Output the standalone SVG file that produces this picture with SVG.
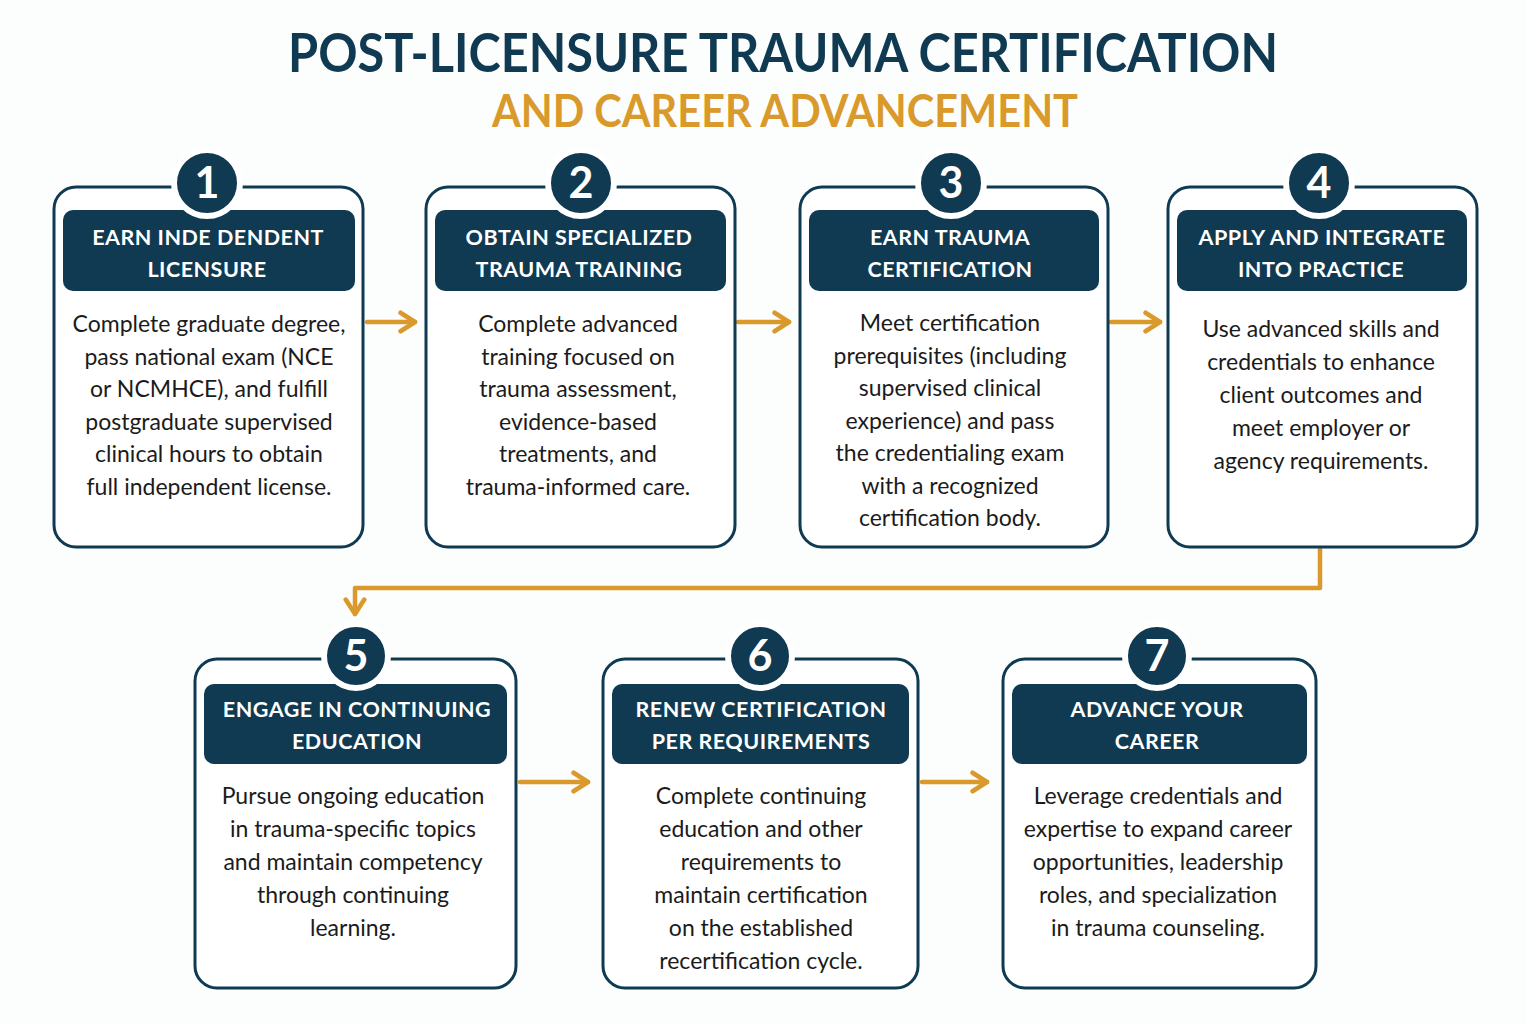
<svg xmlns="http://www.w3.org/2000/svg" width="1527" height="1024" viewBox="0 0 1527 1024">
<defs>
<style>
.card{fill:#ffffff;stroke:#0f3a52;stroke-width:3}
.hdr{fill:#0f3a52}
.num{fill:#0f3a52;stroke:#ffffff;stroke-width:6}
.numt{font-family:"Lato","Liberation Sans",sans-serif;font-weight:700;font-size:43px;fill:#ffffff;text-anchor:middle}
.ht{font-family:"Lato","Liberation Sans",sans-serif;font-weight:700;font-size:21.5px;fill:#ffffff;text-anchor:middle;letter-spacing:0.5px}
.bt{font-family:"Lato","Liberation Sans",sans-serif;font-size:23px;fill:#1b1b1b;text-anchor:middle}
.conn{fill:none;stroke:#d99a2b;stroke-width:4.5;stroke-linecap:round;stroke-linejoin:round}
</style>
<marker id="ah" viewBox="0 0 12 12" refX="9" refY="6" markerWidth="5.5" markerHeight="5.5" markerUnits="strokeWidth" orient="auto">
<path d="M2,1.5 L9,6 L2,10.5" fill="none" stroke="#d99a2b" stroke-width="2.2" stroke-linecap="round" stroke-linejoin="round"/>
</marker>
</defs>
<rect width="1527" height="1024" fill="#fcfdfd"/>
<g id="title">
<text x="783" y="72" font-family="Lato,'Liberation Sans',sans-serif" font-weight="700" font-size="54" fill="#0f3a52" text-anchor="middle" textLength="990" lengthAdjust="spacingAndGlyphs">POST-LICENSURE TRAUMA CERTIFICATION</text>
<text x="785" y="127" font-family="Lato,'Liberation Sans',sans-serif" font-weight="700" font-size="45" fill="#d99a2b" text-anchor="middle" textLength="586" lengthAdjust="spacingAndGlyphs">AND CAREER ADVANCEMENT</text>
</g>
<g id="connectors">
<path class="conn" d="M367,322 H415" marker-end="url(#ah)"/>
<path class="conn" d="M738,322 H789" marker-end="url(#ah)"/>
<path class="conn" d="M1111,322 H1160" marker-end="url(#ah)"/>
<path class="conn" d="M1320,549 V588 H355 V614" marker-end="url(#ah)"/>
<path class="conn" d="M520,782 H588" marker-end="url(#ah)"/>
<path class="conn" d="M922,782 H987" marker-end="url(#ah)"/>
</g>
<g id="node1">
<rect class="card" x="54" y="187" width="309" height="360" rx="22"/>
<rect class="hdr" x="63" y="210" width="292" height="81" rx="10"/>
<circle class="num" cx="207" cy="183" r="33"/>
<text class="numt" x="207" y="198">1</text>
<text class="ht" x="208" y="245">EARN INDE DENDENT</text>
<text class="ht" x="207" y="277">LICENSURE</text>
<text class="bt" x="209" y="332">Complete graduate degree,</text>
<text class="bt" x="209" y="365">pass national exam (NCE</text>
<text class="bt" x="209" y="397">or NCMHCE), and fulfill</text>
<text class="bt" x="209" y="430">postgraduate supervised</text>
<text class="bt" x="209" y="462">clinical hours to obtain</text>
<text class="bt" x="209" y="495">full independent license.</text>
</g>
<g id="node2">
<rect class="card" x="426" y="187" width="309" height="360" rx="22"/>
<rect class="hdr" x="435" y="210" width="291" height="81" rx="10"/>
<circle class="num" cx="581" cy="183" r="33"/>
<text class="numt" x="581" y="198">2</text>
<text class="ht" x="579" y="245">OBTAIN SPECIALIZED</text>
<text class="ht" x="579" y="277">TRAUMA TRAINING</text>
<text class="bt" x="578" y="332">Complete advanced</text>
<text class="bt" x="578" y="365">training focused on</text>
<text class="bt" x="578" y="397">trauma assessment,</text>
<text class="bt" x="578" y="430">evidence-based</text>
<text class="bt" x="578" y="462">treatments, and</text>
<text class="bt" x="578" y="495">trauma-informed care.</text>
</g>
<g id="node3">
<rect class="card" x="800" y="187" width="308" height="360" rx="22"/>
<rect class="hdr" x="809" y="210" width="290" height="81" rx="10"/>
<circle class="num" cx="951" cy="183" r="33"/>
<text class="numt" x="951" y="198">3</text>
<text class="ht" x="950" y="245">EARN TRAUMA</text>
<text class="ht" x="950" y="277">CERTIFICATION</text>
<text class="bt" x="950" y="331">Meet certification</text>
<text class="bt" x="950" y="364">prerequisites (including</text>
<text class="bt" x="950" y="396">supervised clinical</text>
<text class="bt" x="950" y="429">experience) and pass</text>
<text class="bt" x="950" y="461">the credentialing exam</text>
<text class="bt" x="950" y="494">with a recognized</text>
<text class="bt" x="950" y="526">certification body.</text>
</g>
<g id="node4">
<rect class="card" x="1168" y="187" width="309" height="360" rx="22"/>
<rect class="hdr" x="1177" y="210" width="290" height="81" rx="10"/>
<circle class="num" cx="1319" cy="183" r="33"/>
<text class="numt" x="1319" y="198">4</text>
<text class="ht" x="1322" y="245">APPLY AND INTEGRATE</text>
<text class="ht" x="1321" y="277">INTO PRACTICE</text>
<text class="bt" x="1321" y="337">Use advanced skills and</text>
<text class="bt" x="1321" y="370">credentials to enhance</text>
<text class="bt" x="1321" y="403">client outcomes and</text>
<text class="bt" x="1321" y="436">meet employer or</text>
<text class="bt" x="1321" y="469">agency requirements.</text>
</g>
<g id="node5">
<rect class="card" x="195" y="659" width="321" height="329" rx="22"/>
<rect class="hdr" x="204" y="684" width="303" height="80" rx="10"/>
<circle class="num" cx="356" cy="656" r="32"/>
<text class="numt" x="356" y="671">5</text>
<text class="ht" x="357" y="717">ENGAGE IN CONTINUING</text>
<text class="ht" x="357" y="749">EDUCATION</text>
<text class="bt" x="353" y="804">Pursue ongoing education</text>
<text class="bt" x="353" y="837">in trauma-specific topics</text>
<text class="bt" x="353" y="870">and maintain competency</text>
<text class="bt" x="353" y="903">through continuing</text>
<text class="bt" x="353" y="936">learning.</text>
</g>
<g id="node6">
<rect class="card" x="603" y="659" width="315" height="329" rx="22"/>
<rect class="hdr" x="612" y="684" width="297" height="80" rx="10"/>
<circle class="num" cx="760" cy="656" r="32"/>
<text class="numt" x="760" y="671">6</text>
<text class="ht" x="761" y="717">RENEW CERTIFICATION</text>
<text class="ht" x="761" y="749">PER REQUIREMENTS</text>
<text class="bt" x="761" y="804">Complete continuing</text>
<text class="bt" x="761" y="837">education and other</text>
<text class="bt" x="761" y="870">requirements to</text>
<text class="bt" x="761" y="903">maintain certification</text>
<text class="bt" x="761" y="936">on the established</text>
<text class="bt" x="761" y="969">recertification cycle.</text>
</g>
<g id="node7">
<rect class="card" x="1003" y="659" width="313" height="329" rx="22"/>
<rect class="hdr" x="1012" y="684" width="295" height="80" rx="10"/>
<circle class="num" cx="1157" cy="656" r="32"/>
<text class="numt" x="1157" y="671">7</text>
<text class="ht" x="1157" y="717">ADVANCE YOUR</text>
<text class="ht" x="1157" y="749">CAREER</text>
<text class="bt" x="1158" y="804">Leverage credentials and</text>
<text class="bt" x="1158" y="837">expertise to expand career</text>
<text class="bt" x="1158" y="870">opportunities, leadership</text>
<text class="bt" x="1158" y="903">roles, and specialization</text>
<text class="bt" x="1158" y="936">in trauma counseling.</text>
</g>
</svg>
